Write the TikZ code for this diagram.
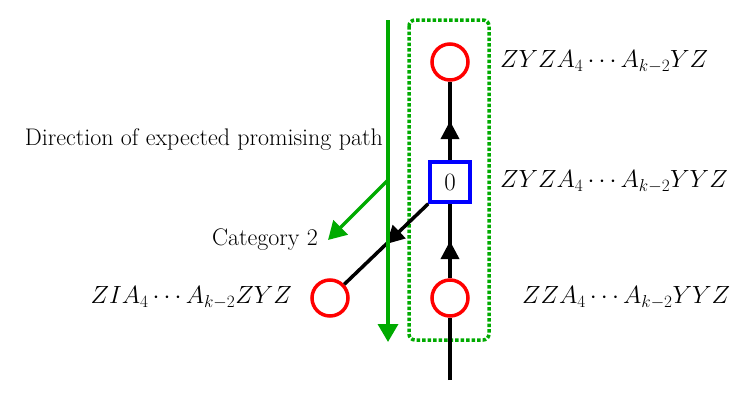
\documentclass[tikz,border=0pt]{standalone}
\usetikzlibrary{arrows.meta,decorations.markings}
\definecolor{gr}{RGB}{0,170,0}
\begin{document}
\begin{tikzpicture}[x=1pt,y=-1pt,
 circ/.style={draw=red,line width=3.5pt,circle,minimum size=36pt,inner sep=0pt},
 sq/.style={draw=blue,line width=3.5pt,minimum size=40pt,inner sep=0pt,font=\fontsize{24}{28}\selectfont},
 lbl/.style={font=\fontsize{24}{28}\selectfont,inner sep=0pt},
 edge/.style={line width=3.5pt,postaction={decorate},decoration={markings,mark=at position 0.5 with {\arrow{Triangle[length=18pt,width=18pt]}}}},
 garrow/.style={draw=gr,line width=3.5pt,-{Triangle[length=18pt,width=20pt]}}]
\useasboundingbox (0,0) rectangle (747,402);
\draw[gr,line width=3.5pt,dotted,rounded corners=6pt] (409,20) rectangle (489,340);
\node[circ] (t) at (450,62) {};
\node[sq] (s) at (450,182) {$0$};
\node[circ] (b) at (450,298) {};
\node[circ] (l) at (330,298) {};
\coordinate (bot) at (450,380);
\draw[line width=3.5pt] (bot) -- (b);
\draw[edge] (b) -- (s);
\draw[edge] (s) -- (t);
\draw[edge] (s.south west) -- (l);
\coordinate (g1) at (388,20);
\coordinate (g2) at (388,342);
\coordinate (g3) at (388,180);
\coordinate (g4) at (328,240);
\draw[garrow] (g1) -- (g2);
\draw[garrow] (g3) -- (g4);
\node[lbl,anchor=west] (lt) at (500,62) {$ZYZA_4\cdots A_{k-2}YZ$};
\node[lbl,anchor=west] (ls) at (500,182) {$ZYZA_4\cdots A_{k-2}YYZ$};
\node[lbl,anchor=west] (lb) at (522,298) {$ZZA_4\cdots A_{k-2}YYZ$};
\node[lbl,anchor=east] (ll) at (292,298) {$ZIA_4\cdots A_{k-2}ZYZ$};
\node[lbl,anchor=east] (dir) at (383,140) {Direction of expected promising path};
\node[lbl,anchor=east] (cat) at (318,240) {Category 2};
\end{tikzpicture}
\end{document}
